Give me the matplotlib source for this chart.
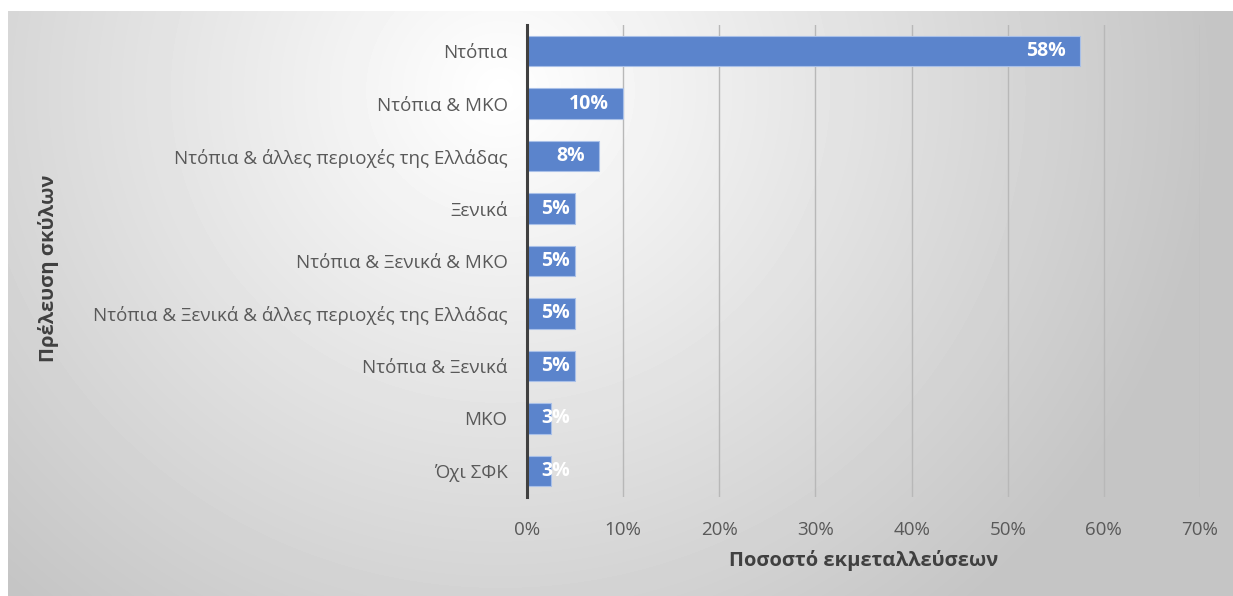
import matplotlib
matplotlib.use("Agg")
from matplotlib import pyplot as plt
import numpy as np

plt.rcParams['font.family'] = ['Open Sans', 'DejaVu Sans']

# origin of the dogs, top to bottom as shown
categories = ["Ντόπια",
              "Ντόπια & ΜΚΟ",
              "Ντόπια & άλλες περιοχές της Ελλάδας",
              "Ξενικά",
              "Ντόπια & Ξενικά & ΜΚΟ",
              "Ντόπια & Ξενικά & άλλες περιοχές της Ελλάδας",
              "Ντόπια & Ξενικά",
              "ΜΚΟ",
              "Όχι ΣΦΚ"]
percent = [57.5, 10.0, 7.5, 5.0, 5.0, 5.0, 5.0, 2.5, 2.5]
xticks = [0, 10, 20, 30, 40, 50, 60, 70]
xticklabels = ["0%", "10%", "20%", "30%", "40%", "50%", "60%", "70%"]

W, H = 1233, 596
fig = plt.figure(figsize=(W / 100, H / 100), dpi=100)
fig.patch.set_facecolor("white")

# grey radial background of the chart area
bg = fig.add_axes([8 / W, 0, 1 - 8 / W, (H - 11) / H], zorder=0)
yy, xx = np.mgrid[11:H, 8:W]
r = np.sqrt(((xx - 500) / 760.0) ** 2 + ((yy - 90) / 720.0) ** 2)
shade = np.clip(255 - 62 * r, 197, 255) / 255.0
bg.imshow(shade, cmap="gray", vmin=0, vmax=1, aspect="auto", interpolation="bilinear")
bg.axis("off")

ax = fig.add_axes([527 / W, (H - 497) / H, (1200 - 527) / W, (497 - 25) / H], zorder=1)
ax.patch.set_alpha(0)

y = np.arange(len(categories))
ax.barh(y, percent, height=0.58, color="#5b84cc", edgecolor="#a9c0e8", linewidth=0.8, zorder=3)
ax.set_ylim(len(categories) - 0.5, -0.5)
ax.set_xlim(0, 70)

ax.set_xticks(xticks)
ax.set_xticklabels(xticklabels)
ax.set_yticks(y)
ax.set_yticklabels(categories)
ax.tick_params(axis="both", length=0, labelsize=13.5, labelcolor="#595959")
ax.tick_params(axis="x", pad=17)
ax.tick_params(axis="y", pad=14)

ax.grid(axis="x", color="#b8b8b8", linewidth=1.0, zorder=0)
ax.set_axisbelow(True)
for side in ["top", "right", "bottom"]:
    ax.spines[side].set_visible(False)
ax.spines["left"].set_color("#404040")
ax.spines["left"].set_linewidth(2.2)
ax.spines["left"].set_zorder(4)

# value labels: inside the bar end, but never closer than 14 px to the axis
renderer = fig.canvas.get_renderer()
x0 = ax.transData.transform((0, 0))[0]
for yi, v in zip(y, percent):
    label = "%d%%" % int(v + 0.5)
    t = ax.annotate(label, (v, yi), xytext=(-14, 0), textcoords="offset pixels",
                    ha="right", va="center", color="white", fontsize=14,
                    fontweight="bold", zorder=5)
    box = t.get_window_extent(renderer)
    if box.x0 < x0 + 14:
        t.xy = (0, yi)
        t.xyann = (14, 0)
        t.set_ha("left")

ax.set_xlabel("Ποσοστό εκμεταλλεύσεων", fontsize=14.5, fontweight="bold",
              color="#404040", labelpad=8)
fig.text(49 / W, 1 - 268 / H, "Πρέλευση σκύλων", rotation=90, fontsize=14.5,
         fontweight="bold", color="#404040", ha="center", va="center")

fig.savefig("out.png", dpi=100)
